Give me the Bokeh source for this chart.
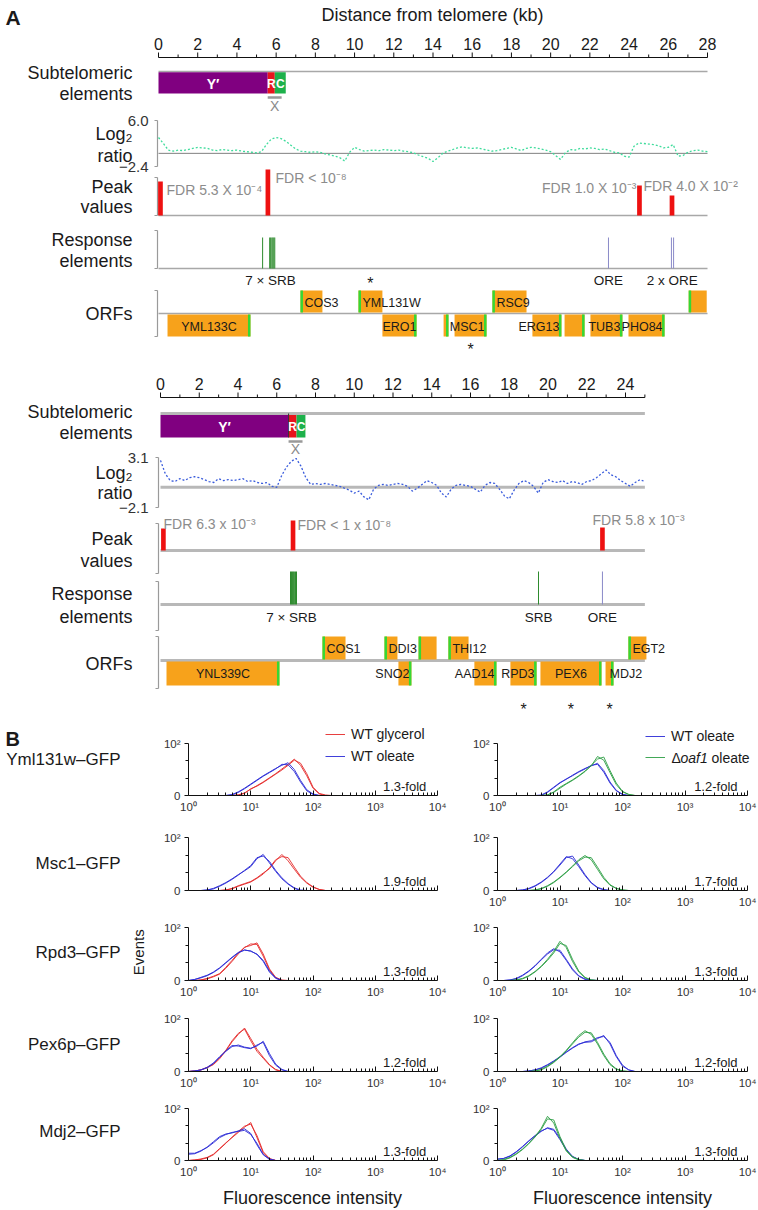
import numpy as np
from bokeh.plotting import figure
from bokeh.models import Range1d, FixedTicker, Legend, LegendItem, CustomJSTickFormatter
from bokeh.layouts import column, row
from bokeh.embed import file_html
from bokeh.resources import INLINE
from bokeh.core.properties import value

FONT = "Liberation Sans"
W = 758
INK = "#1a1a1a"

# ---------------------------------------------------------------- Panel A, upper chromosome end
c1_ticks = [0, 2, 4, 6, 8, 10, 12, 14, 16, 18, 20, 22, 24, 26, 28]
c1_axis_end_kb = 28
c1_subtel_names = ["Y′", "R", "C"]
c1_subtel_start_kb = [0.0, 5.57, 5.93]
c1_subtel_end_kb = [5.57, 5.93, 6.49]
c1_x_element_kb = [5.57, 6.28]
c1_ratio_step_kb = 0.25
c1_log2_ratio = [2.9, 1.8, 0.6, 0.4, 0.6, 0.5, 0.7, 0.9, 1.1, 1.0,
                 0.9, 0.6, 0.5, 0.7, 0.6, 0.5, 0.6, 0.4, 0.3, 0.2,
                 0.1, 0.3, 1.6, 2.6, 2.9, 2.7, 2.2, 1.5, 0.8, 0.4,
                 0.3, 0.2, 0.3, 0.2, -0.1, -0.3, -0.5, -0.8, -1.4, 0.2,
                 1.1, 0.7, 0.4, 0.5, 0.6, 0.5, 0.7, 0.6, 0.5, 0.6,
                 0.4, 0.3, 0.1, -0.3, -0.6, -0.9, -1.5, -0.8, 0.0, 0.4,
                 0.7, 1.0, 1.2, 1.0, 0.9, 1.0, 0.8, 0.6, 0.4, 0.5,
                 0.7, 0.9, 1.1, 0.8, 0.5, 0.9, 1.1, 1.0, 0.8, 0.6,
                 0.3, -0.4, -1.1, 0.1, 0.7, 0.6, 0.9, 0.8, 1.0, 0.9,
                 0.7, 0.8, 0.5, 0.2, 0.1, -0.5, -0.7, 1.3, 1.9, 1.8,
                 1.7, 1.6, 1.4, 1.0, 1.1, 1.6, -0.5, -0.4, 0.2, 0.5,
                 0.6, 0.4, 0.3]
c1_log2_axis = [6.0, -2.4]
c1_peak_kb = [0.10, 5.58, 24.53, 26.19]
c1_peak_height = [0.85, 1.15, 0.75, 0.50]
c1_peak_fdr = ["FDR 5.3 X 10⁻⁴", "FDR < 10⁻⁸", "FDR 1.0 X 10⁻³", "FDR 4.0 X 10⁻²"]
c1_srb_kb = [5.31, 5.67, 5.72, 5.78, 5.83, 5.88, 5.93]
c1_ore_kb = [22.95, 26.16, 26.27]
c1_re_labels = ["7 × SRB", "ORE", "2 x ORE"]
c1_re_label_kb = [5.71, 22.95, 26.2]
c1_orf_names = ["YML133C", "COS3", "YML131W", "ERO1", "", "MSC1", "RSC9", "ERG13", "", "TUB3", "PHO84", ""]
c1_orf_start_kb = [0.46, 7.24, 10.20, 11.42, 14.54, 15.10, 17.03, 19.07, 20.71, 22.03, 23.97, 27.04]
c1_orf_end_kb = [4.69, 8.36, 11.42, 13.16, 14.79, 16.73, 18.77, 20.55, 21.73, 23.66, 25.81, 27.96]
c1_orf_strand = ["-", "+", "+", "-", "-", "-", "+", "-", "-", "-", "-", "+"]
c1_orf_label_align = ["center", "left", "left", "center", "", "right", "left", "right", "", "right", "right", ""]
c1_starred = ["YML131W", "MSC1"]

# ---------------------------------------------------------------- Panel A, lower chromosome end
c2_ticks = [0, 2, 4, 6, 8, 10, 12, 14, 16, 18, 20, 22, 24]
c2_axis_end_kb = 25
c2_subtel_names = ["Y′", "R", "C"]
c2_subtel_start_kb = [0.0, 6.61, 7.02]
c2_subtel_end_kb = [6.61, 7.02, 7.48]
c2_x_element_kb = [6.61, 7.33]
c2_ratio_step_kb = 0.25
c2_log2_ratio = [2.8, 1.4, 0.7, 0.6, 0.9, 0.7, 1.0, 1.1, 1.0, 0.8,
                 0.6, 0.5, 0.9, 0.7, 0.8, 0.7, 0.8, 0.9, 0.6, 0.7,
                 0.5, 0.4, 0.5, 0.1, 0.0, 1.2, 2.1, 2.7, 3.0, 2.2,
                 1.0, 0.3, 0.4, 0.3, 0.4, 0.3, 0.2, 0.1, -0.1, -0.3,
                 -0.6, -0.4, -1.0, -1.3, -0.2, 0.2, 0.3, 0.2, 0.3, 0.4,
                 0.3, 0.1, -0.4, -0.1, 0.3, 0.7, 0.5, 0.2, -0.6, -1.0,
                 -0.2, 0.2, 0.3, 0.2, 0.1, -0.2, -0.5, 0.2, 0.5, 0.4,
                 -0.2, -0.9, -1.2, -0.3, 0.4, 0.7, 0.5, 0.1, -0.6, 0.5,
                 0.8, 0.6, 0.5, 0.7, 0.4, 0.6, 0.5, 0.3, 0.6, 0.7,
                 1.0, 1.4, 1.8, 1.3, 1.1, 0.7, 0.4, 0.1, 0.5, 0.8,
                 0.6]
c2_log2_axis = [3.1, -2.1]
c2_peak_kb = [0.15, 6.84, 22.81]
c2_peak_height = [0.55, 0.75, 0.575]
c2_peak_fdr = ["FDR 6.3 x 10⁻³", "FDR < 1 x 10⁻⁸", "FDR 5.8 x 10⁻³"]
c2_srb_kb = [6.71, 6.76, 6.81, 6.86, 6.91, 6.97, 7.02, 19.51]
c2_ore_kb = [22.81]
c2_re_labels = ["7 × SRB", "SRB", "ORE"]
c2_re_label_kb = [6.76, 19.51, 22.81]
c2_orf_names = ["YNL339C", "COS1", "DDI3", "", "THI12", "EGT2", "SNO2", "AAD14", "RPD3", "PEX6", "MDJ2"]
c2_orf_start_kb = [0.31, 8.36, 11.56, 13.32, 14.86, 24.15, 12.28, 16.20, 18.06, 19.61, 22.97]
c2_orf_end_kb = [6.14, 9.55, 12.23, 14.25, 15.90, 25.08, 12.95, 17.34, 19.41, 22.76, 23.38]
c2_orf_strand = ["-", "+", "+", "+", "+", "+", "-", "-", "-", "-", "-"]
c2_orf_label_align = ["center", "left", "left", "", "left", "left", "right", "right", "right", "center", "left"]
c2_starred = ["RPD3", "PEX6", "MDJ2"]

# ---------------------------------------------------------------- Panel B (flow cytometry histograms)
hist_log10_bins = [0.0, 0.1, 0.2, 0.3, 0.4, 0.5, 0.6, 0.7, 0.8, 0.9, 1.0, 1.1, 1.2,
                   1.3, 1.4, 1.5, 1.6, 1.7, 1.8, 1.9, 2.0, 2.1, 2.2, 2.3, 2.4, 2.5]
gene_names = ["Yml131w–GFP", "Msc1–GFP", "Rpd3–GFP", "Pex6p–GFP", "Mdj2–GFP"]
fold_left = ["1.3-fold", "1.9-fold", "1.3-fold", "1.2-fold", "1.3-fold"]
fold_right = ["1.2-fold", "1.7-fold", "1.3-fold", "1.2-fold", "1.3-fold"]

yml_gly_a = [0,0,0,0,0,0,0,0,1,4,13,18,25,33,41,49,58,68,62,42,16,4,1,0,0,0]
yml_gly_b = [0,0,0,0,0,0,0,0,1,5,12,19,26,34,42,51,60,70,58,38,14,3,0,0,0,0]
yml_ole_a = [0,0,0,0,0,0,0,2,7,14,22,30,38,45,52,58,63,50,29,11,3,0,0,0,0,0]
yml_ole_b = [0,0,0,0,0,0,0,1,6,13,21,29,37,44,51,60,59,46,26,9,2,0,0,0,0,0]
msc_gly_a = [0,0,0,0,0,0,1,4,9,13,17,24,33,41,56,68,56,40,25,14,6,2,0,0,0,0]
msc_gly_b = [0,0,0,0,0,0,1,3,8,12,16,23,31,43,58,64,62,44,27,15,7,2,0,0,0,0]
msc_ole_a = [0,0,0,1,4,9,15,22,30,37,45,60,68,52,36,22,12,4,0,0,0,0,0,0,0,0]
msc_ole_b = [0,0,0,1,3,8,14,21,29,38,47,62,65,55,38,24,13,5,1,0,0,0,0,0,0,0]
rpd_gly_a = [0,0,1,4,8,13,25,38,52,62,69,68,46,20,5,0,0,0,0,0,0,0,0,0,0,0]
rpd_gly_b = [0,0,1,3,7,12,23,36,50,63,66,71,50,22,6,1,0,0,0,0,0,0,0,0,0,0]
rpd_ole_a = [0,2,5,9,15,23,33,43,52,58,55,50,38,18,5,0,0,0,0,0,0,0,0,0,0,0]
rpd_ole_b = [0,2,6,10,16,24,34,44,53,57,56,49,36,16,4,0,0,0,0,0,0,0,0,0,0,0]
pex_gly_a = [0,1,3,8,14,26,40,58,72,80,58,38,25,12,3,0,0,0,0,0,0,0,0,0,0,0]
pex_gly_b = [0,1,3,7,13,24,39,56,70,82,62,42,27,13,4,0,0,0,0,0,0,0,0,0,0,0]
pex_ole_a = [0,1,3,8,16,28,39,49,48,45,43,50,55,30,12,3,0,0,0,0,0,0,0,0,0,0]
pex_ole_b = [0,1,3,7,15,27,38,47,50,46,44,48,57,34,14,4,0,0,0,0,0,0,0,0,0,0]
mdj_gly_a = [0,1,3,6,12,23,34,44,54,64,73,44,15,3,0,0,0,0,0,0,0,0,0,0,0,0]
mdj_gly_b = [0,1,2,5,11,22,33,45,56,66,70,48,17,4,0,0,0,0,0,0,0,0,0,0,0,0]
mdj_ole_a = [14,14,19,25,34,44,50,54,56,58,50,33,12,3,0,0,0,0,0,0,0,0,0,0,0,0]
mdj_ole_b = [12,13,18,26,36,46,51,53,57,61,52,30,11,2,0,0,0,0,0,0,0,0,0,0,0,0]

yml_ole2_a = [0,0,0,0,0,0,0,0,6,15,24,32,38,45,51,58,60,45,24,9,2,0,0,0,0,0]
yml_ole2_b = [0,0,0,0,0,0,0,1,7,16,25,31,39,46,52,57,62,48,26,10,2,0,0,0,0,0]
yml_oaf_a = [0,0,0,0,0,0,0,0,1,7,16,23,30,38,47,57,75,68,44,21,7,2,0,0,0,0]
yml_oaf_b = [0,0,0,0,0,0,0,0,1,6,14,22,29,37,46,58,70,74,48,24,8,2,0,0,0,0]
msc_ole2_a = [0,0,0,0,1,4,9,16,25,36,50,64,60,45,28,14,5,1,0,0,0,0,0,0,0,0]
msc_ole2_b = [0,0,0,0,1,3,8,15,24,35,48,62,65,48,30,15,6,2,0,0,0,0,0,0,0,0]
msc_oaf_a = [0,0,0,0,0,0,1,4,9,16,25,35,46,58,66,58,40,22,10,4,1,0,0,0,0,0]
msc_oaf_b = [0,0,0,0,0,0,1,3,8,15,24,34,45,56,63,62,44,25,11,4,1,0,0,0,0,0]
rpd_ole2_a = [0,0,1,4,10,18,28,40,52,60,54,38,20,8,2,0,0,0,0,0,0,0,0,0,0,0]
rpd_ole2_b = [0,0,1,3,9,17,27,39,50,58,57,40,22,9,3,1,0,0,0,0,0,0,0,0,0,0]
rpd_oaf_a = [0,0,0,1,4,9,17,27,40,55,74,62,36,16,5,1,0,0,0,0,0,0,0,0,0,0]
rpd_oaf_b = [0,0,0,1,3,8,16,26,38,52,70,66,40,18,6,1,0,0,0,0,0,0,0,0,0,0]
pex_ole2_a = [0,0,0,0,0,1,3,7,13,20,28,37,45,52,55,56,62,68,52,28,10,3,0,0,0,0]
pex_ole2_b = [0,0,0,0,0,1,3,6,12,19,27,36,44,51,56,58,64,66,55,30,12,3,0,0,0,0]
pex_oaf_a = [0,0,0,0,0,0,1,4,10,18,28,40,54,68,77,70,52,30,13,4,1,0,0,0,0,0]
pex_oaf_b = [0,0,0,0,0,0,1,3,9,17,27,39,52,65,74,73,55,33,15,5,1,0,0,0,0,0]
mdj_ole2_a = [3,4,9,17,27,38,48,57,62,58,40,20,7,2,0,0,0,0,0,0,0,0,0,0,0,0]
mdj_ole2_b = [2,4,8,16,26,37,47,56,63,60,43,22,8,2,0,0,0,0,0,0,0,0,0,0,0,0]
mdj_oaf_a = [0,2,6,13,22,33,46,62,85,72,42,18,6,1,0,0,0,0,0,0,0,0,0,0,0,0]
mdj_oaf_b = [0,1,5,12,21,32,45,60,80,78,46,20,7,2,0,0,0,0,0,0,0,0,0,0,0,0]

left_glycerol = [(yml_gly_a, yml_gly_b), (msc_gly_a, msc_gly_b), (rpd_gly_a, rpd_gly_b),
                 (pex_gly_a, pex_gly_b), (mdj_gly_a, mdj_gly_b)]
left_oleate = [(yml_ole_a, yml_ole_b), (msc_ole_a, msc_ole_b), (rpd_ole_a, rpd_ole_b),
               (pex_ole_a, pex_ole_b), (mdj_ole_a, mdj_ole_b)]
right_oleate = [(yml_ole2_a, yml_ole2_b), (msc_ole2_a, msc_ole2_b), (rpd_ole2_a, rpd_ole2_b),
                (pex_ole2_a, pex_ole2_b), (mdj_ole2_a, mdj_ole2_b)]
right_oaf1 = [(yml_oaf_a, yml_oaf_b), (msc_oaf_a, msc_oaf_b), (rpd_oaf_a, rpd_oaf_b),
              (pex_oaf_a, pex_oaf_b), (mdj_oaf_a, mdj_oaf_b)]

RED, BLUE, GREEN = "#e42a2a", "#2b2bd6", "#2e9e45"
PK_PX = 40.0  # pixels per unit of peak score


# ---------------------------------------------------------------- helpers
def T(p, xs, ys, texts, size, align="left", color=INK, style="normal", xr="default",
      yr="default", angle=0.0, baseline="middle", x_offset=0):
    p.text(x=list(xs), y=list(ys), text=list(texts), text_font=value(FONT),
           text_font_size=size, text_align=align, text_baseline=baseline,
           text_color=color, text_font_style=style, angle=angle, x_offset=x_offset,
           x_range_name=xr, y_range_name=yr)


def bracket(p, x_px, y0, y1, color="#9a9a9a", w=1.2):
    p.segment(x0=[x_px, x_px - 3, x_px - 3], y0=[y0, y0, y1],
              x1=[x_px, x_px, x_px], y1=[y1, y0, y1],
              x_range_name="px", line_color=color, line_width=w)


def chrom_fig(L, D):
    P0, P1 = L["P0"], L["P1"]
    ppk = (L["kb_ref_px"] - L["kb0_px"]) / L["kb_ref"]
    p = figure(width=W, height=P1 - P0,
               x_range=Range1d(-L["kb0_px"] / ppk, (W - L["kb0_px"]) / ppk),
               y_range=Range1d(P1, P0), x_axis_location=None, y_axis_location=None,
               min_border=0, toolbar_location=None, output_backend="svg")
    p.outline_line_color = None
    p.title.visible = False
    p.grid.visible = False
    vtop, vbot = D["log2_axis"]
    ppu = (L["lr_ybot"] - L["lr_ytop"]) / (vtop - vbot)
    p.extra_x_ranges = {"px": Range1d(0, W)}
    p.extra_y_ranges = {
        "lr": Range1d(vbot - (P1 - L["lr_ybot"]) / ppu, vtop + (L["lr_ytop"] - P0) / ppu),
        "pk": Range1d(-(P1 - L["pk_base"]) / PK_PX, (L["pk_base"] - P0) / PK_PX),
    }
    gray, bw = L["gray"], L["base_w"]
    end = D["axis_end"]

    if L.get("title"):
        t, tx, ty = L["title"]
        T(p, [tx], [ty], [t], "18px", "center", xr="px")
    if L.get("letter"):
        t, tx, ty = L["letter"]
        T(p, [tx], [ty], [t], "21px", "left", style="bold", xr="px")

    # distance axis
    ticks = D["ticks"]
    minor = [t + 1 for t in ticks if t + 1 <= end]
    ay = L["axis_y"]
    p.segment(x0=[0], y0=[ay], x1=[end], y1=[ay], line_color="#111", line_width=1)
    p.segment(x0=ticks, y0=[ay - 5] * len(ticks), x1=ticks, y1=[ay] * len(ticks), line_color="#111")
    p.segment(x0=minor, y0=[ay - 3] * len(minor), x1=minor, y1=[ay] * len(minor), line_color="#111")
    T(p, ticks, [L["ticklab_y"]] * len(ticks), [str(t) for t in ticks], "16px", "center")

    # row labels
    labs = L["row_labels"]
    T(p, [132] * len(labs), [y for _, y in labs], [t for t, _ in labs], "18px", "right", xr="px")

    # subtelomeric elements
    st, sb = L["sub_top"], L["sub_bot"]
    p.segment(x0=[0], y0=[st], x1=[end], y1=[st], line_color=gray, line_width=bw)
    n = len(D["sub_s"])
    p.quad(left=D["sub_s"], right=D["sub_e"], top=[st + bw / 2] * n, bottom=[sb] * n,
           fill_color=["#800080", "#e8141c", "#1db14b"], line_color=None)
    if L["divider"]:
        p.segment(x0=[D["sub_s"][1]], y0=[st], x1=[D["sub_s"][1]], y1=[sb], line_color="#333", line_width=1)
    cx = [(a + b) / 2 for a, b in zip(D["sub_s"], D["sub_e"])]
    cy = (st + sb) / 2 + 1
    T(p, cx[:1], [cy], D["sub_names"][:1], "14px", "center", color="white", style="bold")
    T(p, cx[1:], [cy, cy], D["sub_names"][1:], "12px", "center", color="white", style="bold")
    xa, xb = D["x_elem"]
    p.segment(x0=[xa], y0=[L["xbar_y"]], x1=[xb], y1=[L["xbar_y"]], line_color="#999", line_width=2.5)
    T(p, [(xa + xb) / 2], [L["xlab_y"]], ["X"], "14px", "center", color="#8a8a8a")

    # log2 ratio
    p.segment(x0=[0], y0=[0], x1=[end], y1=[0], y_range_name="lr",
              line_color=L["zero_color"], line_width=L["zero_w"])
    vx = L["vaxis_px"]
    p.segment(x0=[vx, vx - 3, vx - 3], y0=[vbot, vtop, vbot], x1=[vx, vx, vx], y1=[vtop, vtop, vbot],
              x_range_name="px", y_range_name="lr", line_color="#9a9a9a", line_width=1.2)
    T(p, [148, 148], [vtop, vbot], [f"{v:.1f}".replace("-", "−") for v in (vtop, vbot)],
      "15px", "right", color="#333", xr="px", yr="lr")
    kb = np.arange(len(D["ratio"])) * D["ratio_step"]
    p.line(kb, D["ratio"], y_range_name="lr", line_color=L["ratio_color"], line_width=1.3, line_dash="2 2")

    # peaks
    pb = L["pk_base"]
    p.segment(x0=[0], y0=[pb], x1=[end], y1=[pb], line_color=gray, line_width=bw)
    bracket(p, vx, *L["pk_brk"])
    hw = 0.12
    npk = len(D["peak_kb"])
    p.quad(left=[k - hw for k in D["peak_kb"]], right=[k + hw for k in D["peak_kb"]],
           bottom=[0] * npk, top=D["peak_h"], y_range_name="pk", fill_color="#ee1111", line_color=None)
    for txt, (px, al, y) in zip(D["fdr"], L["fdr_pos"]):
        T(p, [px], [y], [txt], "14px", al, color="#8c8c8c", xr="px")

    # response elements
    rb = L["re_base"]
    p.segment(x0=[0], y0=[rb], x1=[end], y1=[rb], line_color=gray, line_width=bw)
    bracket(p, vx, *L["re_brk"])
    ns, no = len(D["srb"]), len(D["ore"])
    p.segment(x0=D["srb"], y0=[L["re_line_top"]] * ns, x1=D["srb"], y1=[rb] * ns,
              line_color="#2e8b2e", line_width=1)
    p.segment(x0=D["ore"], y0=[L["re_line_top"]] * no, x1=D["ore"], y1=[rb] * no,
              line_color="#8a8ac8", line_width=1)
    T(p, D["re_lab_kb"], [L["re_lab_y"]] * len(D["re_lab"]), D["re_lab"], "13.5px", "center")

    # ORFs
    ob = L["orf_base"]
    bracket(p, vx, *L["orf_brk"])
    p.segment(x0=[0], y0=[ob], x1=[end], y1=[ob], line_color=gray, line_width=bw)
    ew = 2.5 / ppk
    tops, bots, gl, gr = [], [], [], []
    lx, ly, lt, la = [], [], [], []
    sx, sy = [], []
    for name, s, e, strand, al in zip(D["orf_names"], D["orf_s"], D["orf_e"], D["orf_strand"], D["orf_align"]):
        up = strand == "+"
        t, b = L["orf_up"] if up else L["orf_lo"]
        tops.append(t)
        bots.append(b)
        if up:
            gl.append(s); gr.append(s + ew)
        else:
            gl.append(e - ew); gr.append(e)
        if name:
            if al == "left":
                x = s + 4 / ppk
            elif al == "right":
                x = e - 2 / ppk
            else:
                x = (s + e) / 2
            lx.append(x); ly.append(L["orf_lab_up"] if up else L["orf_lab_lo"]); lt.append(name); la.append(al)
        if name in D["starred"]:
            sx.append((s + e) / 2)
            sy.append((L["star_up"] if up else L["star_lo"]) + 4)
    p.quad(left=D["orf_s"], right=D["orf_e"], top=tops, bottom=bots, fill_color="#f7a21b", line_color=None)
    p.quad(left=gl, right=gr, top=tops, bottom=bots, fill_color="#35d835", line_color=None)
    for x, y, t, a in zip(lx, ly, lt, la):
        T(p, [x], [y], [t], "12.5px", a)
    T(p, sx, sy, ["*"] * len(sx), "16px", "center")
    return p


A1 = dict(P0=0, P1=360, kb0_px=158, kb_ref_px=707, kb_ref=28,
          title=("Distance from telomere (kb)", 432, 14), letter=("A", 5, 17),
          axis_y=57, ticklab_y=43,
          sub_top=71, sub_bot=93, xbar_y=97, xlab_y=105,
          lr_ytop=120, lr_ybot=166, vaxis_px=157,
          pk_base=215, pk_brk=(177, 215),
          fdr_pos=[(166, "left", 189), (275, "left", 177), (636, "right", 187), (643, "left", 185)],
          re_base=268, re_brk=(230, 268), re_line_top=237, re_lab_y=280,
          orf_base=313, orf_brk=(290, 336), orf_up=(290, 312), orf_lo=(314, 336),
          orf_lab_up=302, orf_lab_lo=326, star_up=279, star_lo=345,
          row_labels=[("Subtelomeric", 72), ("elements", 93), ("Log₂", 133), ("ratio", 155),
                      ("Peak", 186), ("values", 206), ("Response", 239), ("elements", 260), ("ORFs", 313)],
          gray="#a8a8a8", base_w=1.3, zero_color="#808080", zero_w=1.0, ratio_color="#3fdc9c",
          divider=False)
A2 = dict(P0=360, P1=725, kb0_px=160, kb_ref_px=625, kb_ref=24,
          title=None, letter=None,
          axis_y=397, ticklab_y=383,
          sub_top=413, sub_bot=437, xbar_y=441, xlab_y=448,
          lr_ytop=457, lr_ybot=507, vaxis_px=158,
          pk_base=550, pk_brk=(523, 573),
          fdr_pos=[(163, "left", 523), (297, "left", 524), (592, "left", 519)],
          re_base=604, re_brk=(581, 630), re_line_top=571, re_lab_y=617,
          orf_base=660, orf_brk=(636, 688), orf_up=(636, 659), orf_lo=(661, 685),
          orf_lab_up=648, orf_lab_lo=673, star_up=None, star_lo=705,
          row_labels=[("Subtelomeric", 411), ("elements", 432), ("Log₂", 472), ("ratio", 492),
                      ("Peak", 538), ("values", 560), ("Response", 593), ("elements", 616), ("ORFs", 663)],
          gray="#b8b8b8", base_w=3, zero_color="#b8b8b8", zero_w=3, ratio_color="#3a5cdc",
          divider=True)

D1 = dict(ticks=c1_ticks, axis_end=c1_axis_end_kb, sub_names=c1_subtel_names, sub_s=c1_subtel_start_kb,
          sub_e=c1_subtel_end_kb, x_elem=c1_x_element_kb, ratio=c1_log2_ratio, ratio_step=c1_ratio_step_kb,
          log2_axis=c1_log2_axis, peak_kb=c1_peak_kb, peak_h=c1_peak_height, fdr=c1_peak_fdr,
          srb=c1_srb_kb, ore=c1_ore_kb, re_lab=c1_re_labels, re_lab_kb=c1_re_label_kb,
          orf_names=c1_orf_names, orf_s=c1_orf_start_kb, orf_e=c1_orf_end_kb, orf_strand=c1_orf_strand,
          orf_align=c1_orf_label_align, starred=c1_starred)
D2 = dict(ticks=c2_ticks, axis_end=c2_axis_end_kb, sub_names=c2_subtel_names, sub_s=c2_subtel_start_kb,
          sub_e=c2_subtel_end_kb, x_elem=c2_x_element_kb, ratio=c2_log2_ratio, ratio_step=c2_ratio_step_kb,
          log2_axis=c2_log2_axis, peak_kb=c2_peak_kb, peak_h=c2_peak_height, fdr=c2_peak_fdr,
          srb=c2_srb_kb, ore=c2_ore_kb, re_lab=c2_re_labels, re_lab_kb=c2_re_label_kb,
          orf_names=c2_orf_names, orf_s=c2_orf_start_kb, orf_e=c2_orf_end_kb, orf_strand=c2_orf_strand,
          orf_align=c2_orf_label_align, starred=c2_starred)

figA1 = chrom_fig(A1, D1)
figA2 = chrom_fig(A2, D2)


# ---------------------------------------------------------------- panel B
def label_fig(width, y_top, y_bot):
    p = figure(width=width, height=y_bot - y_top, x_range=Range1d(0, width), y_range=Range1d(y_bot, y_top),
               x_axis_location=None, y_axis_location=None, min_border=0,
               toolbar_location=None, output_backend="svg")
    p.outline_line_color = None
    p.title.visible = False
    p.grid.visible = False
    return p


decades = [1, 10, 100, 1000, 10000]
log_minor = [m * 10 ** d for d in range(4) for m in range(2, 10)]
SUP_JS = "const s=['\u2070','\u00b9','\u00b2','\u00b3','\u2074']; return '10'+s[Math.round(Math.log10(tick))];"


def hist_fig(width, bl, br, h, bt, bb, show_x, ext_top=0, ext_right=0):
    fh = h - bt - bb
    fw = width - bl - br
    y_end = 100.0 * fh / (fh - ext_top)
    x_end = 10 ** (4.0 * fw / (fw - ext_right))
    p = figure(width=width, height=h, x_axis_type="log", x_range=Range1d(1, x_end), y_range=Range1d(0, y_end),
               min_border_left=bl, min_border_right=br, min_border_top=bt, min_border_bottom=bb,
               toolbar_location=None, output_backend="svg")
    p.outline_line_color = None
    p.title.visible = False
    p.grid.visible = False
    xa, ya = p.xaxis[0], p.yaxis[0]
    xa.ticker = FixedTicker(ticks=decades, minor_ticks=log_minor)
    xa.formatter = CustomJSTickFormatter(code=SUP_JS if show_x else "return '';")
    xa.bounds = (1, 10000)
    ya.ticker = FixedTicker(ticks=[0, 100], minor_ticks=[33.3, 66.7])
    ya.formatter = CustomJSTickFormatter(code="return tick == 0 ? '0' : '10\u00b2';")
    ya.bounds = (0, 100)
    for ax in (xa, ya):
        ax.axis_line_color = "#111"
        ax.major_tick_line_color = "#111"
        ax.minor_tick_line_color = "#111"
        ax.major_label_text_font = FONT
        ax.major_label_text_font_size = "11.5px"
        ax.major_label_text_color = "#333"
    xa.major_tick_in, xa.major_tick_out, xa.minor_tick_in, xa.minor_tick_out = 5, 0, 3, 0
    xa.major_label_standoff = 5
    ya.major_tick_in, ya.major_tick_out, ya.minor_tick_in, ya.minor_tick_out = 0, 4, 0, 3
    ya.major_label_standoff = 4
    return p


def draw_curves(p, reps, color):
    rends = []
    b = np.array(hist_log10_bins)
    for vals in reps:
        v = np.array(vals, dtype=float)
        nz = np.nonzero(v)[0]
        i0 = max(nz[0] - 1, 0)
        i1 = min(nz[-1] + 1, len(v) - 1)
        rends.append(p.line(10 ** b[i0:i1 + 1], v[i0:i1 + 1], line_color=color, line_width=1, line_alpha=0.9))
    return rends


def add_legend(p, items, loc):
    leg = Legend(items=[LegendItem(label=t, renderers=[r]) for t, r in items], location=loc,
                 orientation="vertical", background_fill_alpha=0, border_line_alpha=0,
                 label_text_font=FONT, label_text_font_size="14px", label_text_color=INK,
                 glyph_width=20, glyph_height=14, label_height=14, spacing=6, padding=0,
                 margin=0, label_standoff=6)
    p.add_layout(leg)


row_h = [91, 95, 90, 91, 91]
row_bt = [18, 21, 16, 17, 16]
row_bb = [21, 21, 21, 21, 23]
gene_label_y = [768, 862, 954, 1045, 1133]
RIGHT_FRAME_L = 497
DEC_PX_R = 62.5

rows = []
y0 = 725
for i in range(5):
    h = row_h[i]
    lab = label_fig(150, y0, y0 + h)
    T(lab, [120], [gene_label_y[i]], [gene_names[i]], "17px", "right")
    if i == 0:
        T(lab, [5], [741], ["B"], "20px", "left", style="bold", baseline="alphabetic")
    if i == 2:
        T(lab, [138], [953], ["Events"], "15px", "center", angle=np.pi / 2)

    # first row: frame extended upward so that the legends sit inside it
    ext = 16 if i == 0 else 0
    bt = row_bt[i] - ext
    hl = hist_fig(300, 38, 13, h, bt, row_bb[i], show_x=(i != 1), ext_top=ext)
    r_gly = draw_curves(hl, left_glycerol[i], RED)
    r_ole = draw_curves(hl, left_oleate[i], BLUE)
    T(hl, [10 ** 3.82], [17], [fold_left[i]], "13px", "right")

    hr = hist_fig(308, 47, 0, h, bt, row_bb[i], show_x=True, ext_top=ext, ext_right=11)
    r_ole2 = draw_curves(hr, right_oleate[i], BLUE)
    r_oaf = draw_curves(hr, right_oaf1[i], GREEN)
    T(hr, [10 ** 3.84], [17], [fold_right[i]], "13px", "right")

    if i == 0:
        add_legend(hl, [("WT glycerol", r_gly[0]), ("WT oleate", r_ole[0])], (137, 31))
        add_legend(hr, [("WT oleate", r_ole2[0]), (" ", r_oaf[0])], (148, 31))
        # italic gene name inside the second legend entry
        fh = h - bt - row_bb[i]
        y_end = 100.0 * fh / (fh - ext)
        lx = 10 ** ((148 + 20 + 6) / DEC_PX_R)
        ly = (31 + 7) / fh * y_end
        T(hr, [lx], [ly], ["Δ"], "14px", "left", x_offset=0)
        T(hr, [lx], [ly], ["oaf1"], "14px", "left", style="italic", x_offset=9)
        T(hr, [lx], [ly], ["oleate"], "14px", "left", x_offset=40)

    rows.append(row(lab, hl, hr))
    y0 += h

bottom = label_fig(W, y0, 1210)
T(bottom, [312, 622], [1197, 1197], ["Fluorescence intensity", "Fluorescence intensity"], "18px", "center")

layout = column(figA1, figA2, *rows, bottom)
open("out.html", "w", encoding="utf-8").write(file_html(layout, INLINE))
